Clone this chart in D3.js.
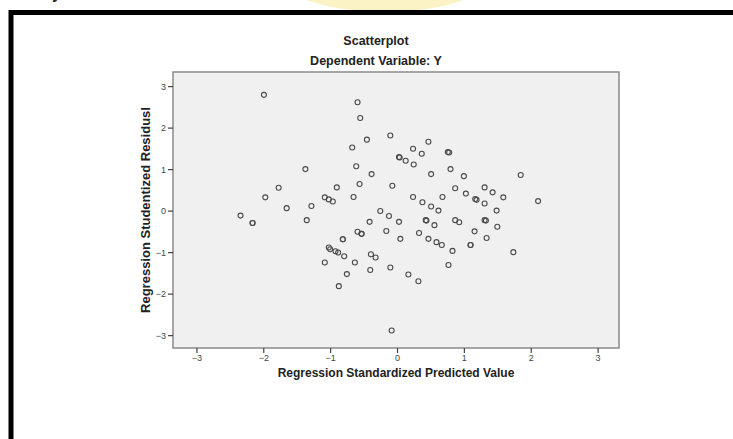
<!DOCTYPE html>
<html>
<head>
<meta charset="utf-8">
<script src="https://cdn.jsdelivr.net/npm/d3@7"></script>
<style>
  html, body { margin: 0; padding: 0; background: #fff; }
  svg { display: block; }
</style>
</head>
<body>
<div id="chart"></div>
<script>
// data (standardized predicted value, studentized residual)
var predicted = [
  -1.99, -1.97, -1.77, -1.37, -1.65, -1.28, -1.08, -1.02, -0.96, -0.90,
  -0.67, -2.34, -2.16, -2.16, -1.35, -0.81, -0.81, -1.02, -1.00, -0.92,
  -0.88, -0.79, -1.08, -0.75, -0.87, -0.59, -0.55, -0.45, -0.10, 0.47,
  0.24, 0.37, 0.76, 0.78, 0.03, 0.04, 0.13, 0.25, -0.61, -0.38,
  0.51, 0.80, 1.00, 1.85, -0.56, -0.07, 0.87, 1.31, 1.43, 1.03,
  1.59, 2.11, -0.65, 0.24, 0.38, 0.51, 0.68, 1.17, 1.19, 1.31,
  -0.25, 0.62, 1.49, -0.12, -0.41, 0.03, 0.43, 0.44, 0.56, 1.31,
  1.33, 0.87, 0.93, 1.50, 1.16, 1.34, 1.10, 1.10, 1.74, -0.59,
  -0.53, -0.53, -0.16, 0.05, 0.33, 0.47, 0.59, 0.67, 0.83, 0.77,
  -0.39, -0.32, -0.63, -0.40, -0.10, 0.17, 0.32, -0.08
];
var residual = [
  2.79, 0.32, 0.55, 1.00, 0.06, 0.11, 0.32, 0.27, 0.22, 0.56,
  1.52, -0.12, -0.30, -0.30, -0.23, -0.69, -0.69, -0.89, -0.93, -0.98,
  -1.01, -1.10, -1.25, -1.53, -1.82, 2.61, 2.23, 1.71, 1.81, 1.66,
  1.49, 1.37, 1.41, 1.40, 1.29, 1.28, 1.20, 1.11, 1.07, 0.88,
  0.88, 1.00, 0.83, 0.86, 0.64, 0.60, 0.54, 0.56, 0.44, 0.41,
  0.32, 0.23, 0.33, 0.33, 0.20, 0.10, 0.33, 0.28, 0.26, 0.17,
  -0.01, 0.00, 0.00, -0.13, -0.27, -0.27, -0.23, -0.24, -0.35, -0.23,
  -0.24, -0.23, -0.28, -0.39, -0.50, -0.66, -0.83, -0.83, -1.00, -0.51,
  -0.56, -0.56, -0.49, -0.68, -0.54, -0.68, -0.76, -0.83, -0.97, -1.31,
  -1.05, -1.13, -1.25, -1.43, -1.37, -1.54, -1.70, -2.89
];
var xTicks = [-3, -2, -1, 0, 1, 2, 3];
var yTicks = [-3, -2, -1, 0, 1, 2, 3];
var xLim = [-3.35, 3.32];
var yLim = [-3.31, 3.34];

var title = "Scatterplot";
var subtitle = "Dependent Variable: Y";
var xLabel = "Regression Standardized Predicted Value";
var yLabel = "Regression Studentized Residusl";

var font = "Liberation Sans, Arial, sans-serif";
var width = 733, height = 439;
var margin = {top: 72, right: 114, bottom: 91, left: 173};

var svg = d3.select("#chart").append("svg")
    .attr("width", width)
    .attr("height", height)
    .attr("viewBox", [0, 0, width, height])
    .attr("font-family", font);

// faint watermark and page remains above the frame
svg.append("ellipse")
    .attr("cx", 385).attr("cy", -30)
    .attr("rx", 112).attr("ry", 42)
    .attr("fill", "#fbf3c6");
svg.append("text")
    .attr("x", 52).attr("y", -1)
    .attr("font-size", 16).attr("font-weight", "bold")
    .attr("fill", "#222")
    .text("y");

// thick black outer frame
svg.append("rect")
    .attr("x", 11).attr("y", 12.5)
    .attr("width", width + 20).attr("height", height + 20)
    .attr("fill", "none")
    .attr("stroke", "#000")
    .attr("stroke-width", 5);

var x = d3.scaleLinear()
    .domain(xLim)
    .range([margin.left, width - margin.right]);

var y = d3.scaleLinear()
    .domain(yLim)
    .range([height - margin.bottom, margin.top]);

// plot area
svg.append("rect")
    .attr("x", x(xLim[0]))
    .attr("y", y(yLim[1]))
    .attr("width", x(xLim[1]) - x(xLim[0]))
    .attr("height", y(yLim[0]) - y(yLim[1]))
    .attr("fill", "#f0f0f0")
    .attr("stroke", "#8a8a8a")
    .attr("stroke-width", 1.5);

var xAxis = g => g
    .attr("transform", `translate(0,${y(yLim[0])})`)
    .call(d3.axisBottom(x).tickValues(xTicks).tickSize(5).tickPadding(2).tickFormat(d3.format("d")))
    .call(g => g.select(".domain").remove());

var yAxis = g => g
    .attr("transform", `translate(${x(xLim[0])},0)`)
    .call(d3.axisLeft(y).tickValues(yTicks).tickSize(5).tickPadding(2).tickFormat(d3.format("d")))
    .call(g => g.select(".domain").remove());

svg.append("g").attr("class", "x-axis").call(xAxis);
svg.append("g").attr("class", "y-axis").call(yAxis);

svg.selectAll(".tick line").attr("stroke", "#444").attr("stroke-width", 1.2);
svg.selectAll(".tick text")
    .attr("fill", "#444")
    .attr("font-size", 9)
    .attr("font-family", font);

// points
var points = predicted.map((d, i) => ({px: d, res: residual[i]}));
svg.append("g")
    .selectAll("circle")
    .data(points)
    .join("circle")
    .attr("cx", d => x(d.px))
    .attr("cy", d => y(d.res))
    .attr("r", 2.5)
    .attr("fill", "none")
    .attr("stroke", "#4a4a4a")
    .attr("stroke-width", 1.1);

// titles and labels
svg.append("text")
    .attr("x", 376).attr("y", 45)
    .attr("text-anchor", "middle")
    .attr("font-size", 12.5).attr("font-weight", "bold")
    .attr("fill", "#222")
    .text(title);

svg.append("text")
    .attr("x", 376).attr("y", 65)
    .attr("text-anchor", "middle")
    .attr("font-size", 12.5).attr("font-weight", "bold")
    .attr("fill", "#222")
    .text(subtitle);

svg.append("text")
    .attr("x", (x(xLim[0]) + x(xLim[1])) / 2)
    .attr("y", 377)
    .attr("text-anchor", "middle")
    .attr("font-size", 12).attr("font-weight", "bold")
    .attr("fill", "#222")
    .text(xLabel);

svg.append("text")
    .attr("transform", `translate(150,${(y(yLim[0]) + y(yLim[1])) / 2}) rotate(-90)`)
    .attr("text-anchor", "middle")
    .attr("font-size", 13).attr("font-weight", "bold")
    .attr("fill", "#222")
    .text(yLabel);
</script>
</body>
</html>
